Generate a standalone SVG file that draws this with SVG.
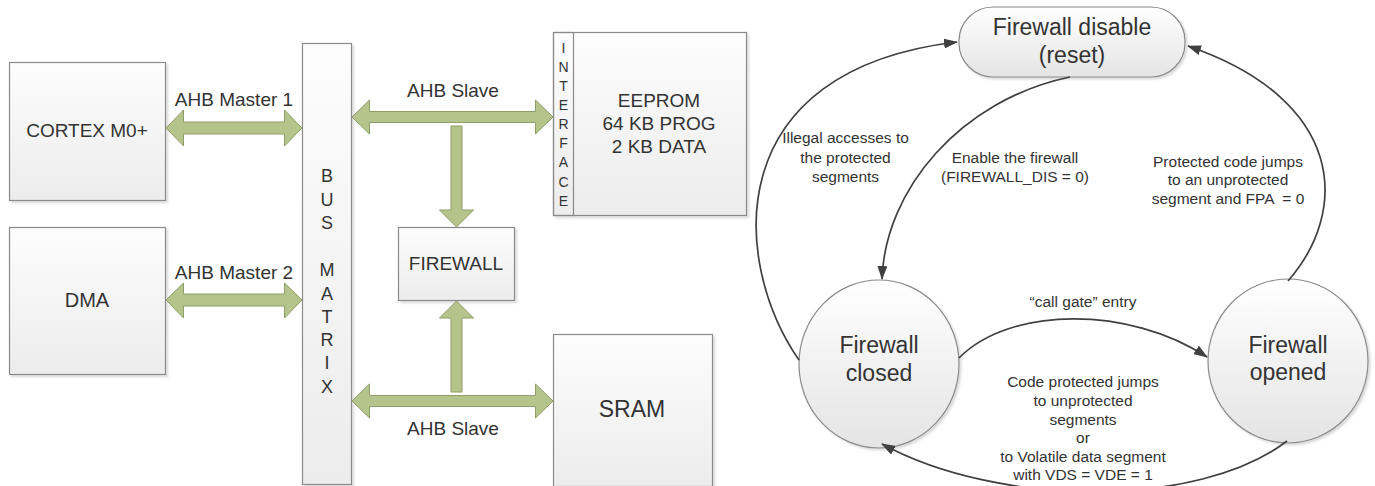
<svg xmlns="http://www.w3.org/2000/svg" width="1375" height="486" viewBox="0 0 1375 486">
<style>
.box{fill:url(#gbox);stroke:#8a8a8a;stroke-width:1.2;filter:url(#sh)}
.t{font-family:"Liberation Sans",Arial,sans-serif;fill:#333;text-anchor:middle}
.big{font-size:19px}
.sm{font-size:15.5px}
.st{font-size:23px}
.bus{fill:#b4c48b;stroke:#8d9e66;stroke-width:1}
.edge{fill:none;stroke:#404040;stroke-width:1.7;marker-end:url(#ah)}
.node{fill:url(#gnode);stroke:#8a8a8a;stroke-width:1.2;filter:url(#sh)}
</style>
<defs>
<linearGradient id="gbox" x1="0" y1="0" x2="0" y2="1">
<stop offset="0" stop-color="#fdfdfd"/><stop offset="1" stop-color="#ececec"/>
</linearGradient>
<linearGradient id="gnode" x1="0" y1="0" x2="0" y2="1">
<stop offset="0" stop-color="#ffffff"/><stop offset="1" stop-color="#e4e4e4"/>
</linearGradient>
<filter id="sh" x="-10%" y="-10%" width="130%" height="130%">
<feDropShadow dx="2" dy="2" stdDeviation="1" flood-color="#000" flood-opacity="0.15"/>
</filter>
<marker id="ah" viewBox="0 0 14 10" refX="13" refY="5" markerWidth="14" markerHeight="10" markerUnits="userSpaceOnUse" orient="auto">
<path d="M0,0 L14,5 L0,10 z" fill="#404040"/>
</marker>
</defs>

<g id="cortex">
<rect class="box" x="9.5" y="62.5" width="156" height="138"/>
<text class="t big" x="87" y="137">CORTEX M0+</text>
</g>
<g id="dma">
<rect class="box" x="9.5" y="227.5" width="156" height="147"/>
<text class="t big" x="87" y="307" style="font-size:20px">DMA</text>
</g>
<g id="busmatrix">
<rect class="box" x="302.5" y="43.5" width="49" height="441"/>
<g class="t" style="font-size:18px">
<text x="327" y="182">B</text>
<text x="327" y="206">U</text>
<text x="327" y="229">S</text>
<text x="327" y="276">M</text>
<text x="327" y="300">A</text>
<text x="327" y="323">T</text>
<text x="327" y="346">R</text>
<text x="327" y="369">I</text>
<text x="327" y="393">X</text>
</g>
</g>
<g id="eeprom">
<rect class="box" x="553.5" y="32.5" width="193" height="183"/>
<rect x="553.5" y="32.5" width="20" height="183" fill="none" stroke="#8a8a8a" stroke-width="1.2"/>
<g class="t" style="font-size:14px">
<text x="563.5" y="53">I</text>
<text x="563.5" y="72">N</text>
<text x="563.5" y="90.5">T</text>
<text x="563.5" y="110">E</text>
<text x="563.5" y="128.5">R</text>
<text x="563.5" y="147.5">F</text>
<text x="563.5" y="167">A</text>
<text x="563.5" y="186.5">C</text>
<text x="563.5" y="205.5">E</text>
</g>
<text class="t big" x="659" y="107">EEPROM</text>
<text class="t big" x="659" y="130">64 KB PROG</text>
<text class="t big" x="659" y="153">2 KB DATA</text>
</g>
<g id="firewall">
<rect class="box" x="398.5" y="227.5" width="116" height="73"/>
<text class="t big" x="456" y="270">FIREWALL</text>
</g>
<g id="sram">
<rect class="box" x="553.5" y="334.5" width="159" height="152"/>
<text class="t" x="632" y="417" style="font-size:23px">SRAM</text>
</g>

<g id="buses">
<polygon class="bus" points="166,128 183.5,110 183.5,122 284.5,122 284.5,110 302,128 284.5,146 284.5,134 183.5,134 183.5,146"/>
<text class="t big" x="234" y="106">AHB Master 1</text>
<polygon class="bus" points="166,300 183.5,283 183.5,294 284.5,294 284.5,283 302,300 284.5,318 284.5,306 183.5,306 183.5,318"/>
<text class="t big" x="234" y="279">AHB Master 2</text>
<polygon class="bus" points="352,117 369.5,100 369.5,111.5 535.5,111.5 535.5,100 553,117 535.5,134 535.5,122.5 369.5,122.5 369.5,134"/>
<text class="t big" x="453" y="97">AHB Slave</text>
<polygon class="bus" points="451,126 462,126 462,210 473.5,210 456.5,227 439.5,210 451,210"/>
<polygon class="bus" points="456.5,301 473.5,318 462,318 462,392 451,392 451,318 439.5,318"/>
<polygon class="bus" points="352,401 369.5,384 369.5,395.5 535.5,395.5 535.5,384 553,401 535.5,418 535.5,406.5 369.5,406.5 369.5,418"/>
<text class="t big" x="453" y="435">AHB Slave</text>
</g>

<g id="state-disable">
<rect class="node" x="959" y="7" width="226" height="70" rx="34" ry="34"/>
<text class="t st" x="1072" y="35">Firewall disable</text>
<text class="t st" x="1072" y="63">(reset)</text>
</g>
<g id="state-closed">
<ellipse class="node" cx="879" cy="364" rx="80" ry="84"/>
<text class="t st" x="879" y="353">Firewall</text>
<text class="t st" x="879" y="381">closed</text>
</g>
<g id="state-opened">
<ellipse class="node" cx="1288" cy="361" rx="80" ry="82"/>
<text class="t st" x="1288" y="353">Firewall</text>
<text class="t st" x="1288" y="380">opened</text>
</g>

<g id="transitions">
<path class="edge" d="M799,360 C730,260 720,70 957,42"/>
<path class="edge" d="M1070,77 C960,100 885,190 882,279"/>
<path class="edge" d="M959,358 C1010,306 1130,306 1207,357"/>
<path class="edge" d="M1288,281 C1350,210 1345,100 1188,46"/>
<path class="edge" d="M1287,441 C1200,508 1000,508 882,444"/>
<g class="t sm">
<text x="845.5" y="143">Illegal accesses to</text>
<text x="845.5" y="162.5">the protected</text>
<text x="845.5" y="182">segments</text>
<text x="1015" y="163">Enable the firewall</text>
<text x="1015" y="182">(FIREWALL_DIS = 0)</text>
<text x="1228" y="166.5">Protected code jumps</text>
<text x="1228" y="185">to an unprotected</text>
<text x="1228" y="203.5" style="white-space:pre">segment and FPA  = 0</text>
<text x="1083" y="307">“call gate” entry</text>
<text x="1083" y="387">Code protected jumps</text>
<text x="1083" y="406">to unprotected</text>
<text x="1083" y="425">segments</text>
<text x="1083" y="443">or</text>
<text x="1083" y="462">to Volatile data segment</text>
<text x="1083" y="480">with VDS = VDE = 1</text>
</g>
</g>
</svg>
